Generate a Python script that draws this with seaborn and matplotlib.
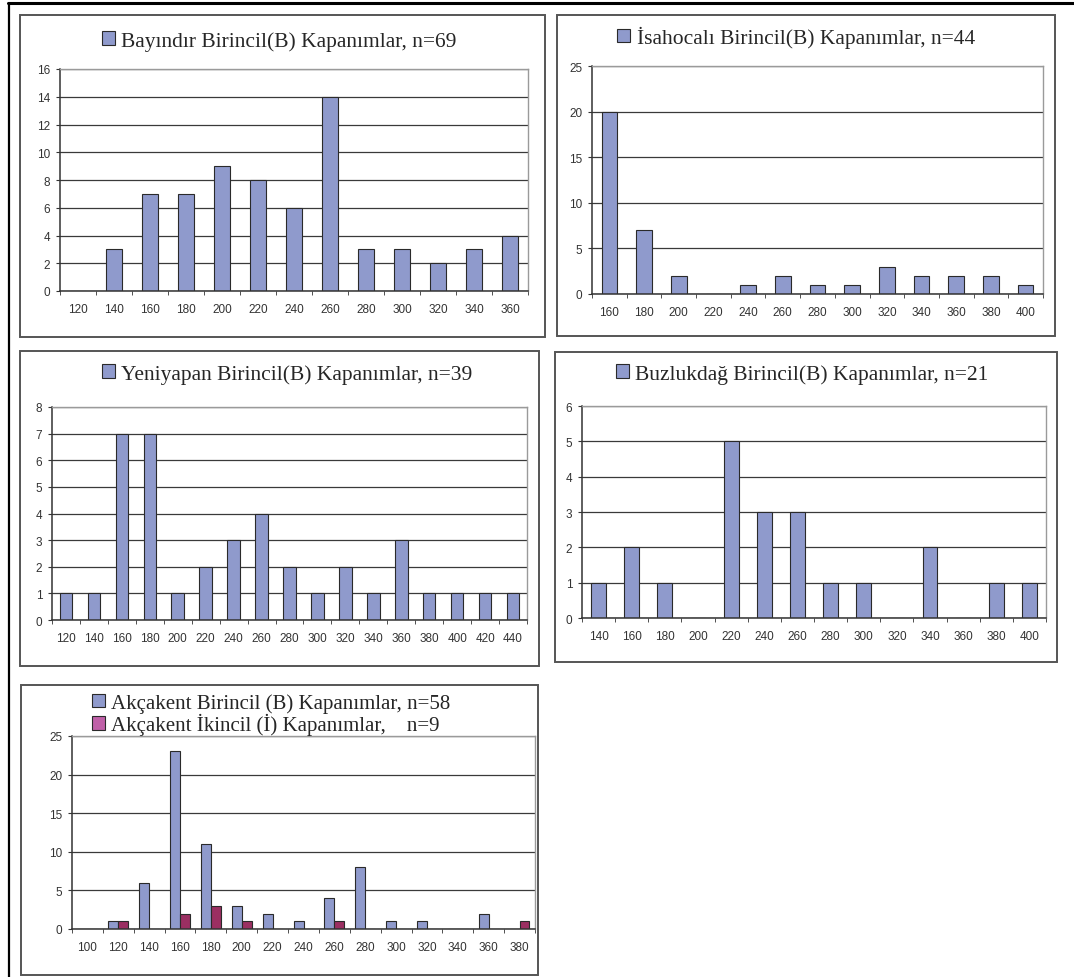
import matplotlib
matplotlib.use("Agg")
import matplotlib.pyplot as plt
import matplotlib.patches as mpatches
from matplotlib.lines import Line2D
from matplotlib.ticker import FixedLocator, MultipleLocator
import seaborn as sns
import pandas as pd
import numpy as np

# ---------------- data ----------------
bay_cats = ["120", "140", "160", "180", "200", "220", "240", "260", "280", "300", "320", "340", "360"]
bay_vals = [0, 3, 7, 7, 9, 8, 6, 14, 3, 3, 2, 3, 4]

isa_cats = ["160", "180", "200", "220", "240", "260", "280", "300", "320", "340", "360", "380", "400"]
isa_vals = [20, 7, 2, 0, 1, 2, 1, 1, 3, 2, 2, 2, 1]

yen_cats = ["120", "140", "160", "180", "200", "220", "240", "260", "280", "300", "320",
            "340", "360", "380", "400", "420", "440"]
yen_vals = [1, 1, 7, 7, 1, 2, 3, 4, 2, 1, 2, 1, 3, 1, 1, 1, 1]

buz_cats = ["140", "160", "180", "200", "220", "240", "260", "280", "300", "320", "340", "360", "380", "400"]
buz_vals = [1, 2, 1, 0, 5, 3, 3, 1, 1, 0, 2, 0, 1, 1]

akc_cats = ["100", "120", "140", "160", "180", "200", "220", "240", "260", "280", "300",
            "320", "340", "360", "380"]
akc_birincil = [0, 1, 6, 23, 11, 3, 2, 1, 4, 8, 1, 1, 0, 2, 0]
akc_ikincil = [0, 1, 0, 2, 3, 1, 0, 0, 1, 0, 0, 0, 0, 0, 1]

titles = ["Bayındır Birincil(B) Kapanımlar, n=69",
          "İsahocalı Birincil(B) Kapanımlar, n=44",
          "Yeniyapan Birincil(B) Kapanımlar, n=39",
          "Buzlukdağ Birincil(B) Kapanımlar, n=21"]
akc_labels = ["Akçakent Birincil (B) Kapanımlar, n=58",
              "Akçakent İkincil (İ) Kapanımlar,    n=9"]

# ---------------- style ----------------
BLUE = "#8f9acc"
RED = "#9b2f62"
EDGE = "#2a2a2a"
W, H = 1074, 978

sns.set_style("white")
plt.rcParams["font.family"] = ["Liberation Sans", "DejaVu Sans"]

fig = plt.figure(figsize=(W / 100, H / 100), dpi=100)
fig.patch.set_facecolor("white")


def rect(x0, y0, x1, y1):
    return [x0 / W, 1 - y1 / H, (x1 - x0) / W, (y1 - y0) / H]


# outer frame lines (top and left)
fig.add_artist(Line2D([8 / W, 1.0], [1 - 4 / H, 1 - 4 / H], color="black", lw=2.2, transform=fig.transFigure))
fig.add_artist(Line2D([9 / W, 9 / W], [1 - 4 / H, 0.0], color="black", lw=1.6, transform=fig.transFigure))

# panel boxes
boxes = [(20, 16, 545, 338), (557, 16, 1055, 337), (20, 352, 539, 667),
         (555, 353, 1057, 663), (21, 686, 538, 976)]
for (x0, y0, x1, y1) in boxes:
    fig.add_artist(mpatches.Rectangle((x0 / W, 1 - y1 / H), (x1 - x0) / W, (y1 - y0) / H,
                                      transform=fig.transFigure, fill=False,
                                      edgecolor="#555555", lw=1.4))

leg_font = {"family": "Liberation Serif", "size": 15.5}
leg_font5 = {"family": "Liberation Serif", "size": 15}
TICK_FS = 8.5


def style_axes(ax, n, ymax, ystep):
    ax.set_xlim(-0.5, n - 0.5)
    ax.set_ylim(0, ymax)
    ax.yaxis.set_major_locator(MultipleLocator(ystep))
    ax.grid(axis="y", color="#3a3a3a", lw=0.9)
    ax.grid(axis="x", visible=False)
    ax.set_axisbelow(True)
    ax.set_xlabel("")
    ax.set_ylabel("")
    for s in ["top", "right"]:
        ax.spines[s].set_color("#9a9a9a")
        ax.spines[s].set_linewidth(1.0)
    for s in ["left", "bottom"]:
        ax.spines[s].set_color("#333333")
        ax.spines[s].set_linewidth(1.1)
    ax.tick_params(axis="x", which="major", length=0, pad=8.5, labelsize=TICK_FS, labelcolor="#333333")
    ax.xaxis.set_minor_locator(FixedLocator(np.arange(-0.5, n, 1.0)))
    ax.tick_params(axis="x", which="minor", length=3, direction="out", color="#333333", bottom=True)
    ax.tick_params(axis="y", length=3, direction="out", color="#333333", labelsize=TICK_FS,
                   labelcolor="#333333", left=True, pad=4)


def legend(ax, handles, labels, cx, cy, spacing=0.3):
    ax.legend(handles=handles, labels=labels, loc="center",
              bbox_to_anchor=(cx / W, 1 - cy / H), bbox_transform=fig.transFigure,
              frameon=False, handlelength=0.6, handleheight=0.6, handletextpad=0.3,
              labelspacing=spacing, borderpad=0, prop=leg_font)


single = [
    (bay_cats, bay_vals, (60, 70, 528, 292), 16, 2, (279, 42)),
    (isa_cats, isa_vals, (592, 67, 1043, 295), 25, 5, (796, 38)),
    (yen_cats, yen_vals, (52, 408, 527, 621), 8, 1, (287, 375)),
    (buz_cats, buz_vals, (582, 407, 1046, 619), 6, 1, (802, 375)),
]

for i, (cats, vals, r, ymax, ystep, lc) in enumerate(single):
    ax = fig.add_axes(rect(*r))
    df = pd.DataFrame({"cat": cats, "val": vals})
    sns.barplot(data=df, x="cat", y="val", order=cats, color=BLUE, width=0.45,
                edgecolor=EDGE, linewidth=0.8, saturation=1, ax=ax)
    style_axes(ax, len(cats), ymax, ystep)
    h = [mpatches.Patch(facecolor=BLUE, edgecolor=EDGE, lw=0.8)]
    legend(ax, h, [titles[i]], *lc)

# Akçakent panel with two series
ax = fig.add_axes(rect(72, 737, 535, 930))
df5 = pd.DataFrame({
    "cat": akc_cats * 2,
    "val": akc_birincil + akc_ikincil,
    "seri": [akc_labels[0]] * len(akc_cats) + [akc_labels[1]] * len(akc_cats),
})
sns.barplot(data=df5, x="cat", y="val", hue="seri", order=akc_cats, hue_order=akc_labels,
            palette=[BLUE, RED], width=0.64, edgecolor=EDGE, linewidth=0.8,
            saturation=1, legend=False, ax=ax)
style_axes(ax, len(akc_cats), 25, 5)
h5 = [mpatches.Patch(facecolor=BLUE, edgecolor=EDGE, lw=0.8),
      mpatches.Patch(facecolor="#c060a8", edgecolor=EDGE, lw=0.8)]
ax.legend(handles=h5, labels=akc_labels, loc="upper left",
          bbox_to_anchor=(82 / W, 1 - 684 / H), bbox_transform=fig.transFigure,
          frameon=False, handlelength=0.6, handleheight=0.6, handletextpad=0.3,
          labelspacing=0.0, borderpad=0, prop=leg_font5)

fig.savefig("out.png", dpi=100, facecolor="white")
